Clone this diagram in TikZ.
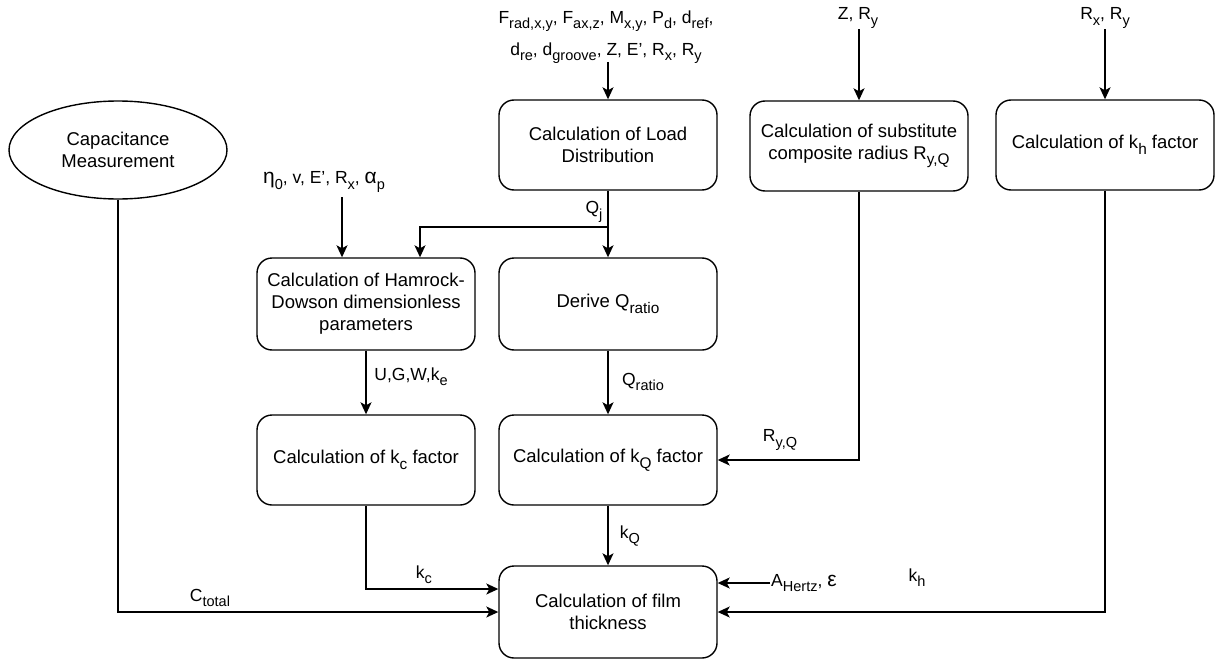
\documentclass[tikz,border=0pt]{standalone}
\usepackage{fontspec}
\usepackage{graphicx}
\setmainfont{Liberation Sans}
\usetikzlibrary{shapes.geometric,arrows.meta,calc}
\newcommand\sbs[1]{\raisebox{-0.3em}{\scalebox{0.83}{#1}}}
\newcommand\bgk[1]{{\fontsize{21}{21}\selectfont #1}}
\begin{document}
\begin{tikzpicture}[x=1pt,y=-1pt,
  box/.style={draw, line width=1.4pt, rounded corners=15pt, minimum width=218pt, minimum height=90pt, align=center, font=\fontsize{18.5}{22}\selectfont, inner sep=2pt},
  lbl/.style={font=\fontsize{17.5}{21}\selectfont, inner sep=1pt},
  arr/.style={line width=1.4pt, -{Stealth[length=12pt,width=11pt,inset=3pt]}},
]
\useasboundingbox (0,0) rectangle (1218,661);

% boxes
\node[box] (load) at (608,145) {Calculation of Load\\Distribution};
\node[box] (subst) at (859,146) {Calculation of substitute\\composite radius R\sbs{y,Q}};
\node[box] (kh) at (1105,145) {Calculation of k\sbs{h} factor};
\node[draw, ellipse, line width=1.4pt, minimum width=218pt, minimum height=98pt, align=center, font=\fontsize{18.5}{22}\selectfont, inner sep=2pt] (cap) at (118,150) {Capacitance\\Measurement};
\node[box, minimum height=92pt] (ham) at (366,304) {Calculation of Hamrock-\\Dowson dimensionless\\parameters};
\node[box, minimum height=92pt] (der) at (608,304) {Derive Q\sbs{ratio}};
\node[box] (kc) at (366,460) {Calculation of k\sbs{c} factor};
\node[box] (kq) at (608,460) {Calculation of k\sbs{Q} factor};
\node[box, minimum height=92pt] (film) at (608,612) {Calculation of film\\thickness};

% input labels
\node[lbl, align=center, font=\fontsize{17.5}{32}\selectfont] (loadin) at (606,37) {F\sbs{rad,x,y}, F\sbs{ax,z}, M\sbs{x,y}, P\sbs{d}, d\sbs{ref},\\d\sbs{re}, d\sbs{groove}, Z, E', R\sbs{x}, R\sbs{y}};
\node[lbl] (zry) at (858,18) {Z, R\sbs{y}};
\node[lbl] (rxy) at (1105,18) {R\sbs{x}, R\sbs{y}};
\node[lbl] (etain) at (324,182) {\bgk{η}\sbs{0}, v, E', R\sbs{x}, \bgk{α}\sbs{p}};
\coordinate (etaout) at (342,197);
\coordinate (qj) at (608,227);
\coordinate (loadout) at (608,62);

% edge labels
\node[lbl] (qjl) at (594,212) {Q\sbs{j}};
\node[lbl] (ugw) at (411,377) {U,G,W,k\sbs{e}};
\node[lbl] (qrl) at (643,382) {Q\sbs{ratio}};
\node[lbl] (ryq) at (780,440) {R\sbs{y,Q}};
\node[lbl] (kql) at (630,536) {k\sbs{Q}};
\node[lbl] (kcl) at (424,575) {k\sbs{c}};
\node[lbl] (ctl) at (210,598) {C\sbs{total}};
\node[lbl, anchor=west] (ahz) at (770,583) {A\sbs{Hertz}, \bgk{ε}};
\node[lbl] (khl) at (917,578) {k\sbs{h}};

% connectors
\draw[arr] (loadout) -- (load.north);
\draw[arr] (zry.south -| subst.north) -- (subst.north);
\draw[arr] (rxy.south -| kh.north) -- (kh.north);
\draw[arr] (etaout) -- (etaout |- ham.north);
\draw[arr] (load.south) -- (der.north);
\draw[arr] (qj) -| ($(ham.north)+(54,0)$);
\draw[arr] (ham.south) -- (kc.north);
\draw[arr] (der.south) -- (kq.north);
\draw[arr] (subst.south) |- (kq.east);
\draw[arr] (kq.south) -- (film.north);
\draw[arr] (kc.south) |- ($(film.west)+(0,-23)$);
\draw[arr] (cap.south) |- (film.west);
\draw[arr] (kh.south) |- (film.east);
\draw[arr] (ahz.west) -- (ahz.west -| film.east);
\end{tikzpicture}
\end{document}
